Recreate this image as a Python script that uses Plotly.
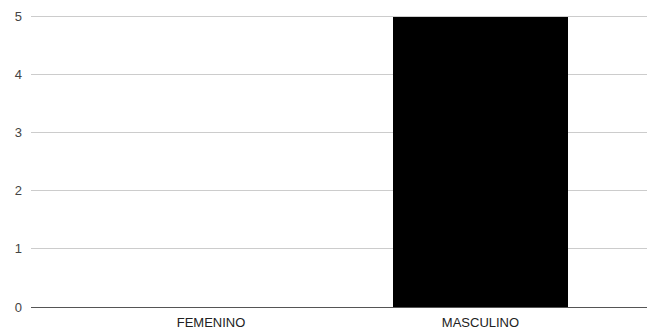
import plotly.graph_objects as go

categories = ["FEMENINO", "MASCULINO"]
values = [0, 5]

fig = go.Figure(go.Bar(
    x=categories, y=values,
    marker=dict(color="#000000", line=dict(width=0)),
    width=0.649,
    hoverinfo="skip",
))

fig.update_layout(
    width=647, height=330,
    margin=dict(l=31, r=0, t=10, b=23),
    paper_bgcolor="white", plot_bgcolor="white",
    font=dict(family="Liberation Sans, Arial, sans-serif", size=13, color="#444444"),
    showlegend=False,
    bargap=0,
)
fig.update_xaxes(
    range=[-0.668, 1.618], showgrid=False, showline=False, ticks="",
    tickfont=dict(size=13, color="#222222"), ticklabelstandoff=6,
)
fig.update_yaxes(
    range=[0, 5.112], tickvals=[0, 1, 2, 3, 4, 5],
    showgrid=True, gridcolor="#cccccc", gridwidth=1,
    zeroline=True, zerolinecolor="#555555", zerolinewidth=1,
    showline=False, ticks="", ticklabelstandoff=8,
    tickfont=dict(size=13, color="#444444"),
)

fig.write_html(
    "out.html",
    config={"displayModeBar": False},
    post_script="document.body.style.margin='0';document.body.style.overflow='hidden';",
)
